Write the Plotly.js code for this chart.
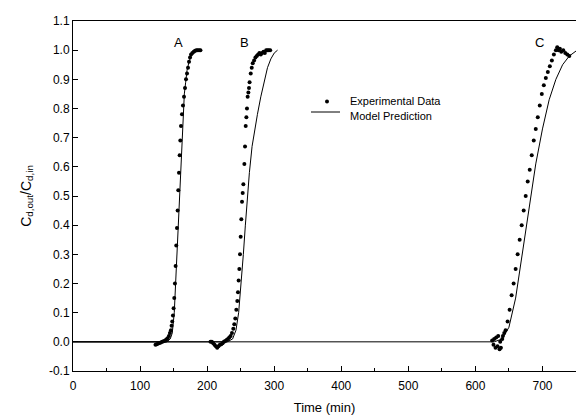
<!DOCTYPE html>
<html><head><meta charset="utf-8">
<script src="https://cdn.plot.ly/plotly-3.0.1.min.js"></script>
<style>html,body{margin:0;padding:0;background:#fff}#chart{width:576px;height:415px}</style>
</head><body><div id="chart"></div>
<script>
// Experimental data
const expA_t = [123,125,127,129,131,133,135,137,139,141,143,144.5,146,147,148,149,150,151,152,153,154,155,156,157,158,159,160,161,162.5,164,165.5,167,168.5,170,171.5,173,174.5,176,178,180,182,184,186,188,190];
const expA_v = [-0.01,-0.008,-0.006,-0.004,-0.002,0,0.002,0.004,0.008,0.012,0.02,0.03,0.04,0.055,0.07,0.09,0.115,0.15,0.2,0.26,0.33,0.39,0.45,0.52,0.58,0.64,0.69,0.74,0.78,0.81,0.84,0.87,0.9,0.92,0.94,0.96,0.975,0.985,0.99,0.995,0.998,1.0,1.0,1.0,1.0];
const expB_t = [205,207,209,211,213,215,217,219,221,223,225,227,229,231,233,235,237,239,240.5,242,243.5,245,246,247,248,249,250,251,252,253,254,255.5,256.5,257.5,258.5,259.4,260.4,261.5,262.4,263.3,265,266.5,268,270,272,274,276,278,280,282,284,286,288,290,292,294];
const expB_v = [0,0,-0.005,-0.01,-0.015,-0.02,-0.015,-0.01,-0.008,-0.005,0,0.003,0.006,0.01,0.015,0.02,0.03,0.045,0.06,0.08,0.11,0.14,0.17,0.21,0.25,0.3,0.36,0.42,0.48,0.51,0.54,0.61,0.67,0.74,0.77,0.8,0.84,0.855,0.87,0.89,0.92,0.94,0.955,0.965,0.975,0.98,0.985,0.99,0.985,0.99,0.995,0.99,1.0,1.0,1.0,1.0];
const expC_t = [625,627,628,630,631,633,634,636,637,638,640,641,643,645,648,651,654,657,660,663,666,669,672,675,678,681,684,687,690,693,696,699,702,705,708,711,714,717,720,722,724,726,728,731,734,737,740];
const expC_v = [0.005,-0.01,0.01,-0.02,0.015,-0.015,0.02,-0.025,0.0,-0.02,0.01,0.02,0.03,0.04,0.07,0.11,0.16,0.2,0.25,0.3,0.35,0.4,0.45,0.5,0.55,0.59,0.64,0.69,0.73,0.77,0.81,0.85,0.88,0.905,0.925,0.945,0.965,0.985,1.0,1.01,1.0,1.005,0.995,1.0,0.99,0.985,0.98];

// Model predictions
const modA_t = [0,140,145,148,151,154,156,158,160,162,164,166,168,170,173,176,180,185,190];
const modA_v = [0,0,0.01,0.03,0.1,0.25,0.38,0.5,0.6,0.7,0.78,0.85,0.89,0.93,0.96,0.98,0.99,0.998,1.0];
const modB_t = [0,230,238,243,247,251,254,257,259.5,263,267,271,275,280,285,290,295,300,305];
const modB_v = [0,0,0.01,0.04,0.1,0.2,0.3,0.4,0.49,0.58,0.67,0.73,0.78,0.84,0.89,0.94,0.97,0.99,1.0];
const modC_t = [0,628,640,650,660,670,680,690,700,710,720,730,740,750];
const modC_v = [0,0,0.01,0.05,0.15,0.3,0.46,0.61,0.73,0.83,0.9,0.95,0.98,0.997];

const curveLabels = ['A','B','C'];
const labelX = [158,256,695];
const labelY = [1.025,1.025,1.025];
const legendNames = ['Experimental Data','Model Prediction'];
const yTickVals = [-0.1,0,0.1,0.2,0.3,0.4,0.5,0.6,0.7,0.8,0.9,1.0,1.1];
const yTickText = ['-0.1','0.0','0.1','0.2','0.3','0.4','0.5','0.6','0.7','0.8','0.9','1.0','1.1'];
const xTickVals = [0,100,200,300,400,500,600,700];

const font = 'Liberation Sans, Arial, sans-serif';
const dot = {mode:'markers', marker:{color:'#000', size:4}, showlegend:false, hoverinfo:'skip'};
const line = {mode:'lines', line:{color:'#000', width:1}, showlegend:false, hoverinfo:'skip'};

const traces = [
  Object.assign({x:modA_t, y:modA_v}, line),
  Object.assign({x:modB_t, y:modB_v}, line),
  Object.assign({x:modC_t, y:modC_v}, line),
  Object.assign({x:expA_t, y:expA_v}, dot),
  Object.assign({x:expB_t, y:expB_v}, dot),
  Object.assign({x:expC_t, y:expC_v}, dot)
];

// plot area: x 73..576 (503px), y 21..371 (350px)
const px = v => (v-73)/503, py = v => (371-v)/350;
const annotations = curveLabels.map((t,i)=>({x:labelX[i], y:labelY[i], text:t, showarrow:false, font:{family:font, size:13, color:'#000'}}));
annotations.push({xref:'paper', yref:'paper', x:px(348), y:py(101), xanchor:'left', yanchor:'middle', text:legendNames[0], showarrow:false, font:{family:font, size:11, color:'#000'}});
annotations.push({xref:'paper', yref:'paper', x:px(348), y:py(116), xanchor:'left', yanchor:'middle', text:legendNames[1], showarrow:false, font:{family:font, size:11, color:'#000'}});
const shapes = [
  {type:'circle', xref:'paper', yref:'paper', x0:px(325), x1:px(329), y0:py(99.5), y1:py(103.5), fillcolor:'#000', line:{width:0}},
  {type:'line', xref:'paper', yref:'paper', x0:px(311), x1:px(340), y0:py(112), y1:py(112), line:{color:'#000', width:1}}
];

const layout = {
  width:576, height:415,
  margin:{l:73, r:0, t:21, b:44},
  paper_bgcolor:'#fff', plot_bgcolor:'#fff',
  font:{family:font, color:'#000', size:12},
  showlegend:false,
  xaxis:{range:[0,750], tickvals:xTickVals, ticks:'inside', ticklen:5, tickcolor:'#000',
    minor:{dtick:50, ticks:'inside', ticklen:3, tickcolor:'#000'},
    showline:true, linecolor:'#000', linewidth:1, mirror:true, showgrid:false, zeroline:false, ticklabelstandoff:4,
    tickfont:{family:font, size:12}, title:{text:'Time (min)', font:{family:font, size:13}, standoff:12}},
  yaxis:{range:[-0.1,1.1], tickvals:yTickVals, ticktext:yTickText,
    ticks:'inside', ticklen:5, tickcolor:'#000', showline:true, linecolor:'#000', linewidth:1, showgrid:false, zeroline:false,
    tickfont:{family:font, size:12}, title:{text:'C<sub>d,out</sub>/C<sub>d,in</sub>', font:{family:font, size:14}, standoff:14}},
  annotations: annotations,
  shapes: shapes
};

Plotly.newPlot('chart', traces, layout, {staticPlot:true, displayModeBar:false});
</script></body></html>
